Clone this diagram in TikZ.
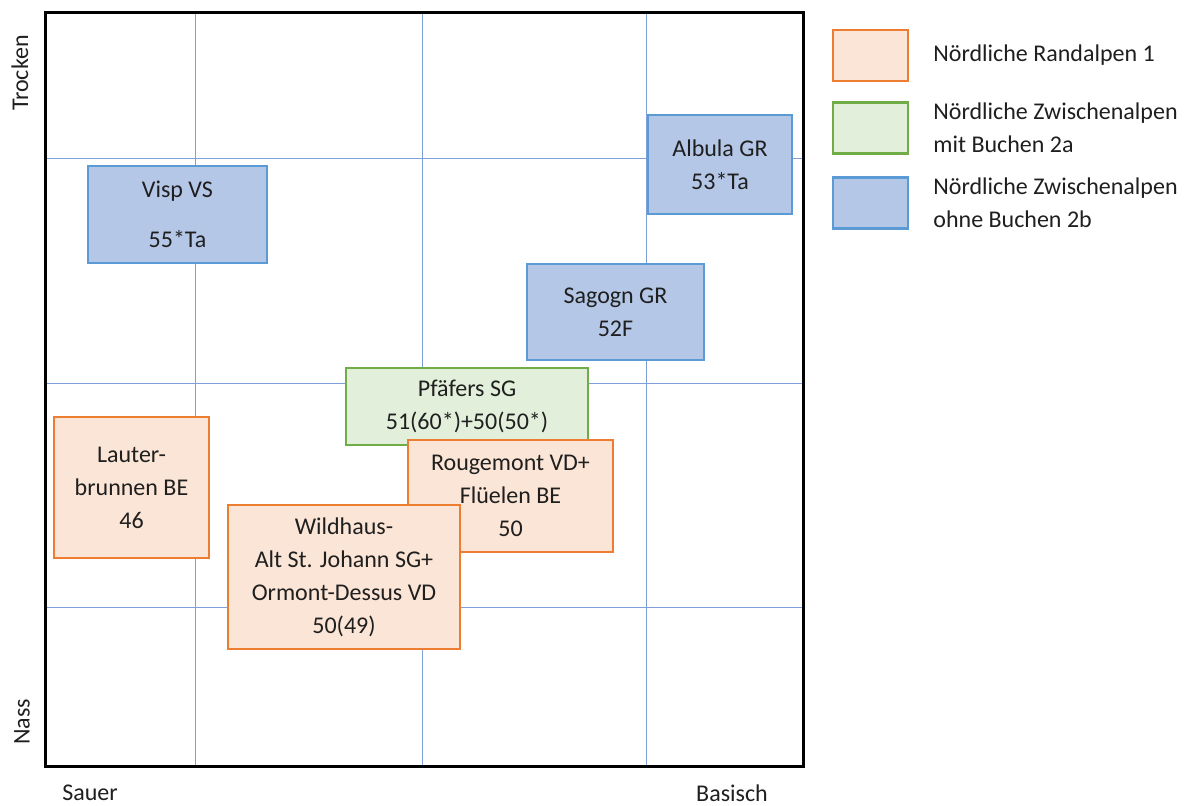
\documentclass[tikz,border=0pt]{standalone}
\usepackage{fontspec}
\setmainfont{Carlito}
\usetikzlibrary{positioning}

\definecolor{randfill}{HTML}{FBE5D6}
\definecolor{randline}{HTML}{ED7D31}
\definecolor{mitfill}{HTML}{E2EFDA}
\definecolor{mitline}{HTML}{70AD47}
\definecolor{ohnefill}{HTML}{B4C7E7}
\definecolor{ohneline}{HTML}{5B9BD5}
\definecolor{gridblue}{HTML}{7F9FDA}

\begin{document}
\begin{tikzpicture}[
  x=0.5pt, y=-0.5pt,
  font=\fontsize{12}{16.5}\selectfont,
  text=black!88,
  box/.style={draw, line width=1.4pt, align=center,
              inner sep=0pt, outer sep=0pt},
  randbox/.style={box, fill=randfill, draw=randline},
  mitbox/.style ={box, fill=mitfill,  draw=mitline},
  ohnebox/.style={box, fill=ohnefill, draw=ohneline},
  keybox/.style ={minimum width=37.5pt, minimum height=25.5pt},
  keytext/.style={anchor=west, align=left, inner sep=0pt},
  gridline/.style={draw=gridblue, line width=0.5pt},
  frame/.style={draw=black, line width=1.5pt},
  axislabel/.style={inner sep=0pt},
]
\useasboundingbox (0,0) rectangle (1190,805);

% grid
\foreach \gx in {195,422,646}
  \draw[gridline] (\gx,12) -- (\gx,766);
\foreach \gy in {158,383,607}
  \draw[gridline] (45,\gy) -- (803,\gy);
\draw[frame] (45,12) rectangle (803,766);

% axis labels
\node[axislabel, rotate=90] (trocken) at (20,73)  {Trocken};
\node[axislabel, rotate=90] (nass)    at (22,722) {Nass};
\node[axislabel] (sauer)   at (90,793)  {Sauer};
\node[axislabel] (basisch) at (732,793) {Basisch};

% sites
\node[ohnebox, minimum width=89.5pt, minimum height=48.5pt]
  (visp) at (177.5,214.5) {Visp VS\\[8.5pt]55*Ta};
\node[ohnebox, minimum width=72pt, minimum height=49.5pt]
  (albula) at (720,164.5) {Albula GR\\53*Ta};
\node[ohnebox, minimum width=88.5pt, minimum height=48pt]
  (sagogn) at (615.5,312) {Sagogn GR\\52F};
\node[mitbox, minimum width=121pt, minimum height=38.5pt]
  (pfaefers) at (467,406.5) {Pfäfers SG\\51(60*)+50(50*)};
\node[randbox, minimum width=102.5pt, minimum height=56pt]
  (rougemont) at (510.5,496) {Rougemont VD+\\Flüelen BE\\50};
\node[randbox, minimum width=77.5pt, minimum height=70.5pt]
  (lauter) at (131.5,487.5) {Lauter-\\brunnen BE\\46};
\node[randbox, minimum width=116pt, minimum height=72pt]
  (wildhaus) at (344,577)
  {Wildhaus-\\Alt St. Johann SG+\\Ormont-Dessus VD\\50(49)};

% legend
\node[randbox, keybox] (keyrand) at (870.5,55.5) {};
\node[mitbox,  keybox] (keymit)  at (870.5,128)  {};
\node[ohnebox, keybox] (keyohne) at (870.5,203)  {};
\node[keytext, right=12.5pt of keyrand] (txtrand) {Nördliche Randalpen 1};
\node[keytext, right=12.5pt of keymit]  (txtmit)
  {Nördliche Zwischenalpen\\mit Buchen 2a};
\node[keytext, right=12.5pt of keyohne] (txtohne)
  {Nördliche Zwischenalpen\\ohne Buchen 2b};

\end{tikzpicture}
\end{document}
